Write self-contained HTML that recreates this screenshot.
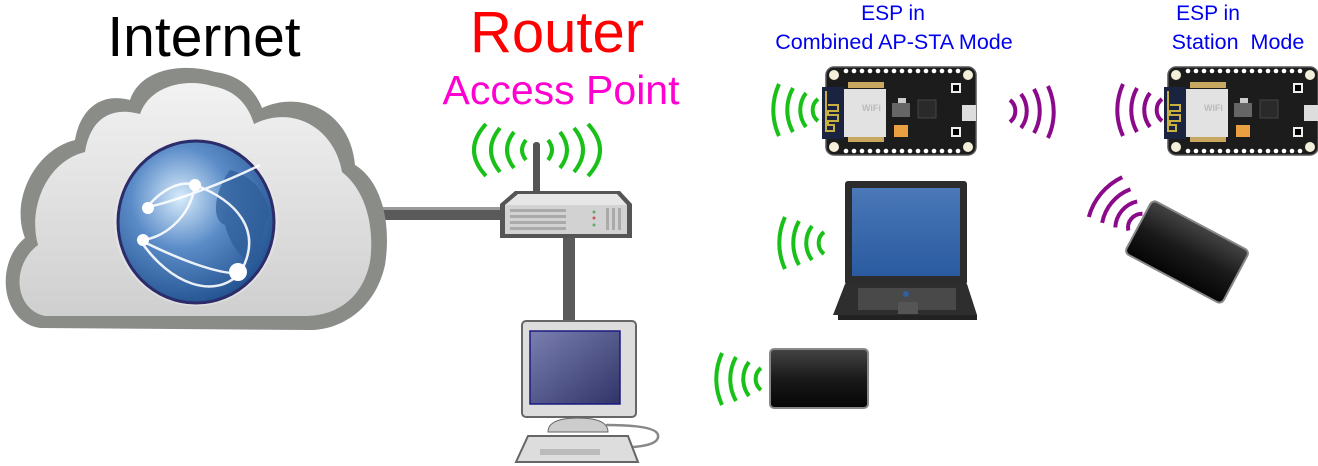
<!DOCTYPE html>
<html><head><meta charset="utf-8"><style>
html,body{margin:0;padding:0;background:#fff;}
svg{display:block}
text{font-family:"Liberation Sans",Arial,sans-serif}
</style></head><body>
<svg width="1318" height="466" viewBox="0 0 1318 466" xmlns="http://www.w3.org/2000/svg">
<defs>
<radialGradient id="glb" cx="40%" cy="35%" r="70%">
<stop offset="0" stop-color="#d8ecfb"/><stop offset="0.45" stop-color="#5b8cc8"/><stop offset="1" stop-color="#1f4f8c"/></radialGradient>
<linearGradient id="cl" x1="0" y1="0" x2="0" y2="1"><stop offset="0" stop-color="#f2f2f2"/><stop offset="1" stop-color="#cfcfcf"/></linearGradient>
<linearGradient id="scr" x1="0" y1="0" x2="1" y2="1"><stop offset="0" stop-color="#7a7fb0"/><stop offset="1" stop-color="#303468"/></linearGradient>
<linearGradient id="blk" x1="0" y1="0" x2="0" y2="1"><stop offset="0" stop-color="#444"/><stop offset="0.5" stop-color="#1a1a1a"/><stop offset="1" stop-color="#050505"/></linearGradient>
<linearGradient id="lap" x1="0" y1="0" x2="0" y2="1"><stop offset="0" stop-color="#4a78b8"/><stop offset="1" stop-color="#2a5aa0"/></linearGradient>
<g id="esp">
<rect x="0" y="0" width="150" height="88" rx="8" fill="#1c1c1c" stroke="#555" stroke-width="1.5"/>
<circle cx="8" cy="8" r="5" fill="#f4efd8"/><circle cx="142" cy="8" r="5" fill="#f4efd8"/>
<circle cx="8" cy="80" r="5" fill="#f4efd8"/><circle cx="142" cy="80" r="5" fill="#f4efd8"/>
<g fill="#fff">
<circle cx="20" cy="4" r="2.3"/><circle cx="28" cy="4" r="2.3"/><circle cx="36" cy="4" r="2.3"/><circle cx="44" cy="4" r="2.3"/><circle cx="52" cy="4" r="2.3"/><circle cx="60" cy="4" r="2.3"/><circle cx="68" cy="4" r="2.3"/><circle cx="76" cy="4" r="2.3"/><circle cx="84" cy="4" r="2.3"/><circle cx="92" cy="4" r="2.3"/><circle cx="100" cy="4" r="2.3"/><circle cx="108" cy="4" r="2.3"/><circle cx="116" cy="4" r="2.3"/><circle cx="124" cy="4" r="2.3"/><circle cx="132" cy="4" r="2.3"/>
<circle cx="20" cy="84" r="2.3"/><circle cx="28" cy="84" r="2.3"/><circle cx="36" cy="84" r="2.3"/><circle cx="44" cy="84" r="2.3"/><circle cx="52" cy="84" r="2.3"/><circle cx="60" cy="84" r="2.3"/><circle cx="68" cy="84" r="2.3"/><circle cx="76" cy="84" r="2.3"/><circle cx="84" cy="84" r="2.3"/><circle cx="92" cy="84" r="2.3"/><circle cx="100" cy="84" r="2.3"/><circle cx="108" cy="84" r="2.3"/><circle cx="116" cy="84" r="2.3"/><circle cx="124" cy="84" r="2.3"/><circle cx="132" cy="84" r="2.3"/>
</g>
<rect x="-4" y="20" width="22" height="52" fill="#1a2340"/>
<path d="M0 24 v40 h8 v-6 h-6 v-4 h10 v-6 h-10 v-4 h10 v-6 h-10" fill="none" stroke="#c8b040" stroke-width="2"/>
<rect x="18" y="22" width="42" height="48" fill="#e2e2e2"/>
<rect x="22" y="15" width="36" height="6" fill="#c8a860"/><rect x="22" y="70" width="36" height="5" fill="#c8a860"/>
<text x="36" y="44" font-size="9" fill="#bbb" font-weight="bold">WiFi</text>
<rect x="66" y="36" width="18" height="14" fill="#666"/><rect x="72" y="31" width="8" height="5" fill="#ccc"/>
<rect x="68" y="58" width="14" height="12" fill="#e8a040"/>
<rect x="92" y="33" width="18" height="18" fill="#2a2a2a" stroke="#444"/>
<rect x="136" y="38" width="14" height="16" fill="#ddd"/>
<rect x="125" y="16" width="10" height="10" fill="#eee"/><rect x="127" y="18" width="6" height="6" fill="#000"/>
<rect x="125" y="60" width="10" height="10" fill="#eee"/><rect x="127" y="62" width="6" height="6" fill="#000"/>
</g>
</defs>

<!-- Cable -->
<rect x="300" y="207" width="202" height="13" fill="#5a5a5a"/>
<rect x="300" y="207" width="202" height="3" fill="#9a9a9a"/>
<rect x="563" y="236" width="12" height="90" fill="#5a5a5a"/>

<!-- Cloud -->
<path d="M40 328 C0 322 -5 262 25 238 C10 200 35 150 75 140 C80 110 100 92 130 100 C140 70 180 62 215 72 C240 75 255 90 262 108 C300 90 350 110 355 165 C380 180 392 220 385 265 C375 310 340 330 310 330 Z" fill="#8a8c88"/>
<path d="M45 316 C15 310 10 266 38 245 C28 210 45 162 85 152 C90 120 110 106 140 114 C150 86 185 78 212 86 C235 90 248 104 254 124 C295 104 335 130 342 172 C365 190 375 225 370 262 C362 300 335 316 305 316 Z" fill="url(#cl)"/>
<!-- Globe -->
<ellipse cx="196" cy="222" rx="82" ry="84" fill="#e5e5e5" opacity="0.7"/>
<ellipse cx="196" cy="222" rx="78" ry="81" fill="url(#glb)" stroke="#2c2c6a" stroke-width="3"/>
<path d="M230 170 c20 5 35 20 40 45 c-10 10 -5 40 -20 50 c-10 -10 -20 -20 -25 -40 c-15 -5 -10 -35 5 -55z" fill="#2e5c98" opacity="0.7"/>
<g fill="none" stroke="#fff" stroke-width="2.5" opacity="0.9">
<path d="M148 207 C180 200 230 180 260 165"/>
<path d="M140 240 C180 260 220 275 240 273"/>
<path d="M145 210 C160 190 180 180 195 185"/>
<path d="M195 185 C190 220 160 240 140 240"/>
<path d="M140 240 C170 285 215 300 240 273"/>
<path d="M195 185 C235 200 265 230 240 273"/>
</g>
<g fill="#fff"><circle cx="148" cy="208" r="6"/><circle cx="195" cy="185" r="6"/><circle cx="143" cy="240" r="6"/><circle cx="238" cy="272" r="9"/></g>

<!-- Router -->
<rect x="533" y="142" width="7" height="52" rx="3" fill="#555"/>
<path d="M515 191 L620 191 L632 204 L632 238 L500 238 L500 204 Z" fill="#555"/>
<path d="M518 194 L617 194 L627 205 L627 234 L505 234 L505 205 Z" fill="#e6e6e6"/>
<rect x="505" y="205" width="122" height="29" fill="#d2d2d2"/>
<g fill="#aaa"><rect x="510" y="209" width="56" height="3"/><rect x="510" y="215" width="56" height="3"/><rect x="510" y="221" width="56" height="3"/><rect x="510" y="227" width="56" height="3"/>
<rect x="606" y="208" width="3" height="22"/><rect x="612" y="208" width="3" height="22"/><rect x="618" y="208" width="3" height="22"/></g>
<g fill="#6a6"><circle cx="594" cy="212" r="1.5"/><circle cx="594" cy="225" r="1.5"/></g><circle cx="594" cy="218" r="1.5" fill="#c55"/>

<!-- Computer -->
<rect x="522" y="321" width="114" height="96" rx="4" fill="#ddd" stroke="#666" stroke-width="2"/>
<rect x="530" y="331" width="90" height="73" fill="url(#scr)" stroke="#1a1a80" stroke-width="1.5"/>
<path d="M548 432 q0 -14 30 -14 q30 0 30 14 z" fill="#ccc" stroke="#666"/>
<path d="M528 436 L628 436 L638 462 L516 462 Z" fill="#ddd" stroke="#666" stroke-width="2"/>
<rect x="540" y="449" width="60" height="6" fill="#bbb"/>
<path d="M606 425 q50 0 52 10 q2 10 -25 12" fill="none" stroke="#888" stroke-width="2.5"/>

<!-- Laptop -->
<rect x="845" y="181" width="122" height="104" rx="3" fill="#2c2c2c"/>
<rect x="852" y="188" width="108" height="88" fill="url(#lap)"/>
<path d="M845 284 L967 284 L977 315 L833 315 Z" fill="#2e2e2e"/>
<rect x="838" y="315" width="139" height="5" fill="#222"/>
<rect x="858" y="288" width="98" height="22" fill="#555" opacity="0.7"/>
<rect x="898" y="302" width="20" height="12" fill="#555"/>
<circle cx="906" cy="294" r="3" fill="#3060a0"/>

<!-- Tablet -->
<rect x="770" y="349" width="98" height="59" rx="4" fill="url(#blk)" stroke="#888" stroke-width="2"/>

<!-- Phone rotated -->
<g transform="translate(1187,252) rotate(28)">
<rect x="-55" y="-30" width="110" height="60" rx="5" fill="url(#blk)" stroke="#888" stroke-width="2"/>
</g>

<!-- ESP boards -->
<use href="#esp" transform="translate(826,67)"/>
<use href="#esp" transform="translate(1168,67)"/>

<!-- Waves -->
<g fill="none" stroke-width="4" stroke-linecap="butt">
<g stroke="#18c018">
<!-- router -->
<path d="M526 140 Q518 150 526 160"/><path d="M514 132 Q500 150 514 168"/><path d="M500 128 Q482 150 500 172"/><path d="M486 124 Q462 150 486 176"/>
<path d="M548 140 Q556 150 548 160"/><path d="M560 132 Q574 150 560 168"/><path d="M574 128 Q592 150 574 172"/><path d="M588 124 Q612 150 588 176"/>
<!-- esp1 left -->
<path d="M818 99 a14 14 0 0 0 0 22"/><path d="M806 93 a28 28 0 0 0 0 34"/><path d="M793 88 a45 45 0 0 0 0 44"/><path d="M779 84 a62 62 0 0 0 0 52"/>
<!-- laptop -->
<path d="M824 232 a14 14 0 0 0 0 22"/><path d="M812 226 a28 28 0 0 0 0 34"/><path d="M799 221 a45 45 0 0 0 0 44"/><path d="M785 217 a62 62 0 0 0 0 52"/>
<!-- tablet -->
<path d="M761 368 a14 14 0 0 0 0 22"/><path d="M749 362 a28 28 0 0 0 0 34"/><path d="M736 357 a45 45 0 0 0 0 44"/><path d="M722 353 a62 62 0 0 0 0 52"/>
</g>
<g stroke="#8a0a8a">
<!-- esp1 right -->
<path d="M1010 100 a14 14 0 0 1 0 22"/><path d="M1021 94 a28 28 0 0 1 0 34"/><path d="M1034 89 a45 45 0 0 1 0 44"/><path d="M1048 86 a62 62 0 0 1 0 52"/>
<!-- esp2 left -->
<path d="M1162 99 a14 14 0 0 0 0 22"/><path d="M1150 93 a28 28 0 0 0 0 34"/><path d="M1137 88 a45 45 0 0 0 0 44"/><path d="M1123 84 a62 62 0 0 0 0 52"/>
<!-- phone -->
<g transform="translate(1140,226) rotate(40)">
<path d="M-6 -11 a14 14 0 0 0 0 22"/><path d="M-18 -17 a28 28 0 0 0 0 34"/><path d="M-31 -22 a45 45 0 0 0 0 44"/><path d="M-45 -26 a62 62 0 0 0 0 52"/>
</g>
</g>
</g>

<!-- Labels -->
<text x="204" y="56" font-size="57" fill="#000" text-anchor="middle">Internet</text>
<text x="557" y="52" font-size="58" fill="#ff0000" text-anchor="middle">Router</text>
<text x="561" y="104" font-size="41" fill="#ff00d0" text-anchor="middle">Access Point</text>
<text x="893" y="20" font-size="21" fill="#0000ee" text-anchor="middle">ESP in</text>
<text x="894" y="49" font-size="21.5" fill="#0000ee" text-anchor="middle">Combined AP-STA Mode</text>
<text x="1208" y="20" font-size="21" fill="#0000ee" text-anchor="middle">ESP in</text>
<text x="1238" y="49" font-size="21.5" fill="#0000ee" text-anchor="middle" xml:space="preserve">Station  Mode</text>
</svg>
</body></html>
